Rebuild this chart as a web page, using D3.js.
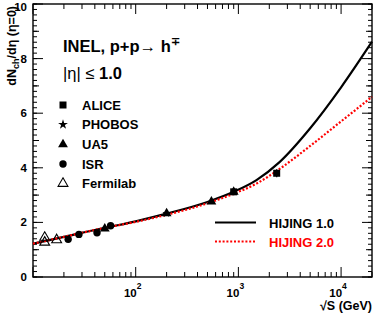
<!DOCTYPE html>
<html>
<head>
<meta charset="utf-8">
<script src="https://cdn.jsdelivr.net/npm/d3@7"></script>
<style>
  body { margin: 0; background: #fff; }
  svg { font-family: "Liberation Sans", Arial, Helvetica, sans-serif; font-weight: bold; }
</style>
</head>
<body>
<svg id="chart" width="374" height="314"></svg>
<script>
// HIJING curves: [sqrt(s) GeV, dN/deta]
const hijing1 = [[10, 1.22], [20, 1.47], [30, 1.62], [50, 1.8], [100, 2.04], [200, 2.32],
  [500, 2.75], [900, 3.12], [1500, 3.55], [2500, 4.2], [5000, 5.45], [10000, 6.95], [20000, 8.62]];
const hijing2 = [[10, 1.22], [20, 1.47], [30, 1.62], [50, 1.8], [100, 2.02], [200, 2.28],
  [500, 2.7], [900, 3.05], [1500, 3.42], [2500, 3.95], [5000, 4.8], [10000, 5.7], [20000, 6.6]];

// measurements
const alice = [[900, 3.12, 0.13], [2360, 3.8, 0.15]];
const phobos = [[200, 2.33]];
const ua5 = [[50, 1.77], [200, 2.33], [546, 2.76], [900, 3.12]];
const isr = [[22, 1.38], [28, 1.56], [42, 1.62], [57, 1.88]];
const fermilab = [[13, 1.45], [13, 1.27], [17, 1.36]];

const legendNames = ["ALICE", "PHOBOS", "UA5", "ISR", "Fermilab"];
const curveNames = ["HIJING 1.0", "HIJING 2.0"];
const yMajor = [0, 2, 4, 6, 8, 10];
const xLabelled = [100, 1000, 10000];

const margin = { left: 33, right: 2, top: 4, bottom: 37 };
const width = 374, height = 314;

const svg = d3.select('#chart');

const x = d3.scaleLog().domain([10, 20000]).range([margin.left, width - margin.right]);
const y = d3.scaleLinear().domain([0, 10]).range([height - margin.bottom, margin.top]);

// minor/medium ticks for y
const yMinor = d3.range(0, 10.01, 0.2).map(v => +v.toFixed(1));
const yMid = d3.range(1, 10, 2);
// log minor ticks for x
const xMinor = [];
[10, 100, 1000, 10000].forEach(d => {
    for (let k = 2; k <= 9; k++) if (d * k <= 20000) xMinor.push(d * k);
});

const x0 = x.range()[0], x1 = x.range()[1];
const y0 = y.range()[0], y1 = y.range()[1];

// ticks drawn inward on all four sides
const ticks = svg.append('g').attr('stroke', '#000').attr('stroke-width', 1);
function yTick(v, len) {
    ticks.append('line').attr('x1', x0).attr('x2', x0 + len).attr('y1', y(v)).attr('y2', y(v));
    ticks.append('line').attr('x1', x1).attr('x2', x1 - len).attr('y1', y(v)).attr('y2', y(v));
}
function xTick(v, len) {
    ticks.append('line').attr('x1', x(v)).attr('x2', x(v)).attr('y1', y0).attr('y2', y0 - len);
    ticks.append('line').attr('x1', x(v)).attr('x2', x(v)).attr('y1', y1).attr('y2', y1 + len);
}
yMinor.forEach(v => yTick(v, 4));
yMid.forEach(v => yTick(v, 6));
yMajor.forEach(v => yTick(v, 10));
xMinor.forEach(v => xTick(v, 5));
[10, 100, 1000, 10000].forEach(v => xTick(v, 10));

// frame
svg.append('rect')
    .attr('x', x0).attr('y', y1)
    .attr('width', x1 - x0).attr('height', y0 - y1)
    .attr('fill', 'none').attr('stroke', '#000').attr('stroke-width', 1.4);

// y tick labels (top one kept inside the page)
svg.append('g').selectAll('text')
    .data(yMajor)
    .enter().append('text')
    .attr('x', 27).attr('y', d => Math.max(y(d) + 4, 11))
    .attr('text-anchor', 'end')
    .attr('font-size', 11.5)
    .text(d => d);

// x tick labels 10^n
const xl = svg.append('g').selectAll('text')
    .data(xLabelled)
    .enter().append('text')
    .attr('x', d => x(d) - 3).attr('y', 297)
    .attr('text-anchor', 'middle')
    .attr('font-size', 11.5);
xl.append('tspan').text('10');
xl.append('tspan').attr('dy', -8).attr('font-size', 8.5).text(d => Math.round(Math.log10(d)));

// axis titles
svg.append('text')
    .attr('x', width - 2).attr('y', 310)
    .attr('text-anchor', 'end')
    .attr('font-size', 12.5)
    .text('\u221AS (GeV)');

const yt = svg.append('text')
    .attr('transform', 'translate(16,6) rotate(-90)')
    .attr('text-anchor', 'end')
    .attr('font-size', 12.5);
yt.append('tspan').text('dN');
yt.append('tspan').attr('dy', 3).attr('font-size', 9).text('ch');
yt.append('tspan').attr('dy', -3).text('/d\u03B7 (\u03B7=0)');

// curves
const line = d3.line()
    .x(d => x(d[0]))
    .y(d => y(d[1]))
    .curve(d3.curveMonotoneX);

svg.append('path')
    .datum(hijing1)
    .attr('d', line)
    .attr('fill', 'none').attr('stroke', '#000').attr('stroke-width', 2.2);
svg.append('path')
    .datum(hijing2)
    .attr('d', line)
    .attr('fill', 'none').attr('stroke', '#ff0000').attr('stroke-width', 2.2)
    .attr('stroke-dasharray', '2,1.8');

// markers
const sym = (type, size) => d3.symbol().type(type).size(size)();
const pts = svg.append('g');

pts.selectAll('.phobos').data(phobos).enter().append('path')
    .attr('transform', d => `translate(${x(d[0])},${y(d[1])})`)
    .attr('d', sym(d3.symbolStar, 22));
pts.selectAll('.ua5').data(ua5).enter().append('path')
    .attr('transform', d => `translate(${x(d[0])},${y(d[1])})`)
    .attr('d', sym(d3.symbolTriangle, 42));
pts.selectAll('.isr').data(isr).enter().append('circle')
    .attr('cx', d => x(d[0])).attr('cy', d => y(d[1])).attr('r', 3.7);
pts.selectAll('.fermi').data(fermilab).enter().append('path')
    .attr('transform', d => `translate(${x(d[0])},${y(d[1])})`)
    .attr('d', sym(d3.symbolTriangle, 42))
    .attr('fill', 'none').attr('stroke', '#000').attr('stroke-width', 1.1);
const al = pts.selectAll('.alice').data(alice).enter().append('g');
al.append('line')
    .attr('x1', d => x(d[0])).attr('x2', d => x(d[0]))
    .attr('y1', d => y(d[1] - d[2])).attr('y2', d => y(d[1] + d[2]))
    .attr('stroke', '#000').attr('stroke-width', 1.2);
al.append('rect')
    .attr('x', d => x(d[0]) - 3.5).attr('y', d => y(d[1]) - 3.5)
    .attr('width', 7).attr('height', 7);

// header text
const h = svg.append('text').attr('x', 63).attr('y', 52).attr('font-size', 16.5);
h.append('tspan').text('INEL, p+p');
h.append('tspan').attr('font-weight', 'normal').text('\u2192 ');
h.append('tspan').text('h');
h.append('tspan').attr('dy', -7).attr('font-size', 11).text('\u2213');

const e = svg.append('text').attr('x', 63).attr('y', 79).attr('font-size', 16.5);
e.append('tspan').attr('font-weight', 'normal').text('|\u03B7| \u2264 ');
e.append('tspan').text('1.0');

// legend for data
const legY = [105, 124.5, 144.5, 164, 183.5];
const lg = svg.append('g');
lg.append('rect').attr('x', 59.5).attr('y', legY[0] - 3.5).attr('width', 7).attr('height', 7);
lg.append('path').attr('transform', `translate(63,${legY[1]})`).attr('d', sym(d3.symbolStar, 30));
lg.append('path').attr('transform', `translate(63,${legY[2]})`).attr('d', sym(d3.symbolTriangle, 42));
lg.append('circle').attr('cx', 63).attr('cy', legY[3]).attr('r', 3.7);
lg.append('path').attr('transform', `translate(63,${legY[4]})`).attr('d', sym(d3.symbolTriangle, 42))
    .attr('fill', 'none').attr('stroke', '#000').attr('stroke-width', 1.1);
lg.selectAll('text').data(legendNames).enter().append('text')
    .attr('x', 82).attr('y', (d, i) => legY[i] + 4.5)
    .attr('font-size', 13)
    .text(d => d);

// legend for curves
const cy = [222.5, 241.5];
svg.append('line').attr('x1', 215).attr('x2', 256).attr('y1', cy[0]).attr('y2', cy[0])
    .attr('stroke', '#000').attr('stroke-width', 2.2);
svg.append('line').attr('x1', 215).attr('x2', 256).attr('y1', cy[1]).attr('y2', cy[1])
    .attr('stroke', '#ff0000').attr('stroke-width', 2.2).attr('stroke-dasharray', '2,1.8');
svg.selectAll('.cl').data(curveNames).enter().append('text')
    .attr('x', 269).attr('y', (d, i) => cy[i] + 5)
    .attr('font-size', 13)
    .attr('fill', (d, i) => i ? '#ff0000' : '#000')
    .text(d => d);
</script>
</body>
</html>
